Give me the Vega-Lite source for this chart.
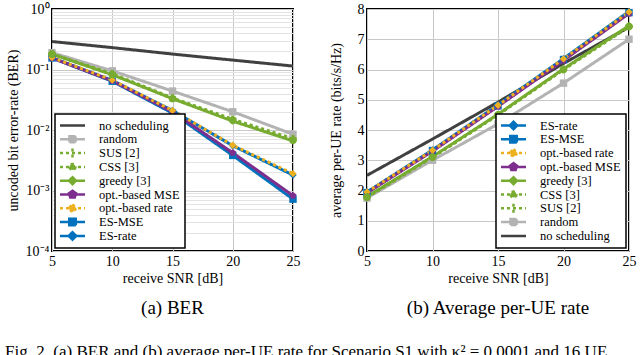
{
  "$schema": "https://vega.github.io/schema/vega-lite/v6.json",
  "padding": {"left": 5, "top": 1, "right": 3, "bottom": 0},
  "background": "white",
  "config": {
    "font": "Liberation Serif",
    "view": {"stroke": "black", "strokeWidth": 2},
    "axis": {"labelFont": "Liberation Serif", "labelFontSize": 14, "labelColor": "black", "titleFont": "Liberation Serif", "titleFontSize": 14, "titleFontWeight": "normal", "titleColor": "black", "labelPadding": 3, "grid": true, "gridColor": "#c8c8c8", "gridWidth": 1, "ticks": false, "domain": false, "labelOverlap": false},
    "legend": {"labelFont": "Liberation Serif", "labelFontSize": 12.5, "labelColor": "black", "symbolSize": 100, "symbolStrokeWidth": 2.5, "symbolOffset": 6, "labelOffset": 20, "rowPadding": 0.8, "padding": 5, "fillColor": "white", "strokeColor": "black", "cornerRadius": 0, "symbolOpacity": 1, "offset": 3, "clipHeight": 13},
    "title": {"font": "Liberation Serif", "fontWeight": "normal", "color": "black"}
  },
  "datasets": {
    "ber": [
      {"snr": 5, "v": 0.29, "method": "no scheduling"}, {"snr": 10, "v": 0.23, "method": "no scheduling"}, {"snr": 15, "v": 0.18, "method": "no scheduling"}, {"snr": 20, "v": 0.143, "method": "no scheduling"}, {"snr": 25, "v": 0.114, "method": "no scheduling"},
      {"snr": 5, "v": 0.19, "method": "random"}, {"snr": 10, "v": 0.095, "method": "random"}, {"snr": 15, "v": 0.044, "method": "random"}, {"snr": 20, "v": 0.02, "method": "random"}, {"snr": 25, "v": 0.0085, "method": "random"},
      {"snr": 5, "v": 0.157, "method": "ES-rate"}, {"snr": 10, "v": 0.066, "method": "ES-rate"}, {"snr": 15, "v": 0.021, "method": "ES-rate"}, {"snr": 20, "v": 0.0055, "method": "ES-rate"}, {"snr": 25, "v": 0.0018, "method": "ES-rate"},
      {"snr": 5, "v": 0.155, "method": "ES-MSE"}, {"snr": 10, "v": 0.064, "method": "ES-MSE"}, {"snr": 15, "v": 0.019, "method": "ES-MSE"}, {"snr": 20, "v": 0.0038, "method": "ES-MSE"}, {"snr": 25, "v": 0.00072, "method": "ES-MSE"},
      {"snr": 5, "v": 0.155, "method": "opt.-based MSE"}, {"snr": 10, "v": 0.065, "method": "opt.-based MSE"}, {"snr": 15, "v": 0.02, "method": "opt.-based MSE"}, {"snr": 20, "v": 0.0042, "method": "opt.-based MSE"}, {"snr": 25, "v": 0.00082, "method": "opt.-based MSE"},
      {"snr": 5, "v": 0.158, "method": "opt.-based rate"}, {"snr": 10, "v": 0.067, "method": "opt.-based rate"}, {"snr": 15, "v": 0.021, "method": "opt.-based rate"}, {"snr": 20, "v": 0.0056, "method": "opt.-based rate"}, {"snr": 25, "v": 0.0019, "method": "opt.-based rate"},
      {"snr": 5, "v": 0.18, "method": "greedy [3]"}, {"snr": 10, "v": 0.082, "method": "greedy [3]"}, {"snr": 15, "v": 0.033, "method": "greedy [3]"}, {"snr": 20, "v": 0.014, "method": "greedy [3]"}, {"snr": 25, "v": 0.0066, "method": "greedy [3]"},
      {"snr": 5, "v": 0.18, "method": "CSS [3]"}, {"snr": 10, "v": 0.083, "method": "CSS [3]"}, {"snr": 15, "v": 0.033, "method": "CSS [3]"}, {"snr": 20, "v": 0.0145, "method": "CSS [3]"}, {"snr": 25, "v": 0.0068, "method": "CSS [3]"},
      {"snr": 5, "v": 0.18, "method": "SUS [2]"}, {"snr": 10, "v": 0.085, "method": "SUS [2]"}, {"snr": 15, "v": 0.034, "method": "SUS [2]"}, {"snr": 20, "v": 0.015, "method": "SUS [2]"}, {"snr": 25, "v": 0.0072, "method": "SUS [2]"}
    ],
    "rate": [
      {"snr": 5, "v": 2.5, "method": "no scheduling"}, {"snr": 10, "v": 3.7, "method": "no scheduling"}, {"snr": 15, "v": 4.92, "method": "no scheduling"}, {"snr": 20, "v": 6.2, "method": "no scheduling"}, {"snr": 25, "v": 7.4, "method": "no scheduling"},
      {"snr": 5, "v": 1.75, "method": "random"}, {"snr": 10, "v": 3.0, "method": "random"}, {"snr": 15, "v": 4.2, "method": "random"}, {"snr": 20, "v": 5.55, "method": "random"}, {"snr": 25, "v": 7.0, "method": "random"},
      {"snr": 5, "v": 1.95, "method": "ES-rate"}, {"snr": 10, "v": 3.34, "method": "ES-rate"}, {"snr": 15, "v": 4.83, "method": "ES-rate"}, {"snr": 20, "v": 6.36, "method": "ES-rate"}, {"snr": 25, "v": 7.92, "method": "ES-rate"},
      {"snr": 5, "v": 1.93, "method": "ES-MSE"}, {"snr": 10, "v": 3.32, "method": "ES-MSE"}, {"snr": 15, "v": 4.8, "method": "ES-MSE"}, {"snr": 20, "v": 6.33, "method": "ES-MSE"}, {"snr": 25, "v": 7.88, "method": "ES-MSE"},
      {"snr": 5, "v": 1.92, "method": "opt.-based MSE"}, {"snr": 10, "v": 3.3, "method": "opt.-based MSE"}, {"snr": 15, "v": 4.78, "method": "opt.-based MSE"}, {"snr": 20, "v": 6.3, "method": "opt.-based MSE"}, {"snr": 25, "v": 7.85, "method": "opt.-based MSE"},
      {"snr": 5, "v": 1.95, "method": "opt.-based rate"}, {"snr": 10, "v": 3.33, "method": "opt.-based rate"}, {"snr": 15, "v": 4.82, "method": "opt.-based rate"}, {"snr": 20, "v": 6.35, "method": "opt.-based rate"}, {"snr": 25, "v": 7.9, "method": "opt.-based rate"},
      {"snr": 5, "v": 1.8, "method": "greedy [3]"}, {"snr": 10, "v": 3.12, "method": "greedy [3]"}, {"snr": 15, "v": 4.52, "method": "greedy [3]"}, {"snr": 20, "v": 6.02, "method": "greedy [3]"}, {"snr": 25, "v": 7.45, "method": "greedy [3]"},
      {"snr": 5, "v": 1.78, "method": "CSS [3]"}, {"snr": 10, "v": 3.1, "method": "CSS [3]"}, {"snr": 15, "v": 4.5, "method": "CSS [3]"}, {"snr": 20, "v": 6.0, "method": "CSS [3]"}, {"snr": 25, "v": 7.42, "method": "CSS [3]"},
      {"snr": 5, "v": 1.78, "method": "SUS [2]"}, {"snr": 10, "v": 3.1, "method": "SUS [2]"}, {"snr": 15, "v": 4.5, "method": "SUS [2]"}, {"snr": 20, "v": 6.0, "method": "SUS [2]"}, {"snr": 25, "v": 7.42, "method": "SUS [2]"}
    ]
  },
  "title": {"text": "Fig. 2.   (a) BER and (b) average per-UE rate for Scenario S1 with \u03ba\u00b2 = 0.0001 and 16 UEs, and the other settings of the simulation.", "orient": "bottom", "anchor": "start", "fontSize": 17, "offset": 25, "frame": "bounds", "limit": 632},
  "hconcat": [
    {
      "width": 241, "height": 242,
      "title": {"text": "(a)  BER", "orient": "bottom", "anchor": "middle", "fontSize": 19, "offset": 14},
      "data": {"name": "ber"},
      "resolve": {"scale": {"shape": "independent", "strokeDash": "independent", "fill": "independent", "stroke": "independent"}},
      "layer": [
        {
          "mark": {"type": "line", "strokeWidth": 3},
          "encoding": {
            "x": {"field": "snr", "type": "quantitative", "scale": {"domain": [5, 25], "nice": false}, "axis": {"values": [5, 10, 15, 20, 25], "tickCount": 10, "format": "d", "title": "receive SNR [dB]", "titlePadding": 3, "labelFlush": false, "labelOverlap": false}},
            "y": {"field": "v", "type": "quantitative", "scale": {"type": "log", "domain": [0.0001, 1], "nice": false}, "axis": {"title": "uncoded bit error-rate (BER)", "titlePadding": 5, "labelOverlap": false,
              "gridColor": {"condition": {"test": "abs(log(datum.value)/LN10 - round(log(datum.value)/LN10)) < 0.001", "value": "#c8c8c8"}, "value": "#e3e3e3"},
              "labelExpr": "abs(log(datum.value)/LN10 - round(log(datum.value)/LN10)) > 0.001 ? '' : datum.value > 0.5 ? '10\u2070' : datum.value > 0.05 ? '10\u207b\u00b9' : datum.value > 0.005 ? '10\u207b\u00b2' : datum.value > 0.0005 ? '10\u207b\u00b3' : '10\u207b\u2074'"}},
            "color": {"field": "method", "type": "nominal", "legend": null, "scale": {"domain": ["no scheduling", "random", "SUS [2]", "CSS [3]", "greedy [3]", "opt.-based MSE", "opt.-based rate", "ES-MSE", "ES-rate"], "range": ["#404040", "#b3b3b3", "#77ac30", "#77ac30", "#77ac30", "#7e2f8e", "#edb120", "#0072bd", "#0072bd"]}},
            "strokeDash": {"field": "method", "type": "nominal", "legend": null, "scale": {"domain": ["no scheduling", "random", "SUS [2]", "CSS [3]", "greedy [3]", "opt.-based MSE", "opt.-based rate", "ES-MSE", "ES-rate"], "range": [[1, 0], [1, 0], [3, 3], [3, 3], [1, 0], [1, 0], [3, 3], [1, 0], [1, 0]]}}
          }
        },
        {
          "transform": [{"filter": "datum.method != 'no scheduling'"}],
          "mark": {"type": "point", "filled": true, "size": 55, "opacity": 1},
          "encoding": {
            "x": {"field": "snr", "type": "quantitative", "axis": {"values": [5, 10, 15, 20, 25], "tickCount": 10, "format": "d", "title": "receive SNR [dB]", "titlePadding": 3, "labelFlush": false, "labelOverlap": false}},
            "y": {"field": "v", "type": "quantitative", "axis": {"title": "uncoded bit error-rate (BER)", "titlePadding": 5, "labelOverlap": false,
              "gridColor": {"condition": {"test": "abs(log(datum.value)/LN10 - round(log(datum.value)/LN10)) < 0.001", "value": "#c8c8c8"}, "value": "#e3e3e3"},
              "labelExpr": "abs(log(datum.value)/LN10 - round(log(datum.value)/LN10)) > 0.001 ? '' : datum.value > 0.5 ? '10\u2070' : datum.value > 0.05 ? '10\u207b\u00b9' : datum.value > 0.005 ? '10\u207b\u00b2' : datum.value > 0.0005 ? '10\u207b\u00b3' : '10\u207b\u2074'"}},
            "color": {"field": "method", "type": "nominal", "legend": null},
            "shape": {"field": "method", "type": "nominal", "legend": null, "scale": {"domain": ["no scheduling", "random", "SUS [2]", "CSS [3]", "greedy [3]", "opt.-based MSE", "opt.-based rate", "ES-MSE", "ES-rate"], "range": ["circle", "square", "cross", "circle", "diamond", "M0,-1L0.95,-0.31L0.59,0.81L-0.59,0.81L-0.95,-0.31Z", "diamond", "square", "diamond"]}}
          }
        },
        {
          "mark": {"type": "point", "opacity": 0, "filled": true},
          "encoding": {
            "x": {"field": "snr", "type": "quantitative", "axis": {"values": [5, 10, 15, 20, 25], "tickCount": 10, "format": "d", "title": "receive SNR [dB]", "titlePadding": 3, "labelFlush": false, "labelOverlap": false}},
            "y": {"field": "v", "type": "quantitative", "axis": {"title": "uncoded bit error-rate (BER)", "titlePadding": 5, "labelOverlap": false,
              "gridColor": {"condition": {"test": "abs(log(datum.value)/LN10 - round(log(datum.value)/LN10)) < 0.001", "value": "#c8c8c8"}, "value": "#e3e3e3"},
              "labelExpr": "abs(log(datum.value)/LN10 - round(log(datum.value)/LN10)) > 0.001 ? '' : datum.value > 0.5 ? '10\u2070' : datum.value > 0.05 ? '10\u207b\u00b9' : datum.value > 0.005 ? '10\u207b\u00b2' : datum.value > 0.0005 ? '10\u207b\u00b3' : '10\u207b\u2074'"}},
            "fill": {"field": "method", "type": "nominal", "legend": {"title": null, "orient": "bottom-left", "encode": {"legend": {"update": {"strokeWidth": {"value": 1.5}}}}}, "scale": {"domain": ["no scheduling", "random", "SUS [2]", "CSS [3]", "greedy [3]", "opt.-based MSE", "opt.-based rate", "ES-MSE", "ES-rate"], "range": ["#404040", "#b3b3b3", "#77ac30", "#77ac30", "#77ac30", "#7e2f8e", "#edb120", "#0072bd", "#0072bd"]}},
            "stroke": {"field": "method", "type": "nominal", "legend": {"title": null, "orient": "bottom-left"}, "scale": {"domain": ["no scheduling", "random", "SUS [2]", "CSS [3]", "greedy [3]", "opt.-based MSE", "opt.-based rate", "ES-MSE", "ES-rate"], "range": ["#404040", "#b3b3b3", "#77ac30", "#77ac30", "#77ac30", "#7e2f8e", "#edb120", "#0072bd", "#0072bd"]}},
            "strokeDash": {"field": "method", "type": "nominal", "legend": {"title": null, "orient": "bottom-left"}, "scale": {"domain": ["no scheduling", "random", "SUS [2]", "CSS [3]", "greedy [3]", "opt.-based MSE", "opt.-based rate", "ES-MSE", "ES-rate"], "range": [[1, 0], [1, 0], [3, 3], [3, 3], [1, 0], [1, 0], [3, 3], [1, 0], [1, 0]]}},
            "shape": {"field": "method", "type": "nominal", "legend": {"title": null, "orient": "bottom-left"}, "scale": {"domain": ["no scheduling", "random", "SUS [2]", "CSS [3]", "greedy [3]", "opt.-based MSE", "opt.-based rate", "ES-MSE", "ES-rate"], "range": [
              "M-2.5,0H2.5",
              "M-2.5,0H2.5M-0.6,-0.6H0.6V0.6H-0.6Z",
              "M-2.5,0H2.5M0,-0.9V0.9",
              "M-2.5,0H2.5M0.6,0A0.6,0.6,0,1,1,-0.6,0A0.6,0.6,0,1,1,0.6,0Z",
              "M-2.5,0H2.5M0,-0.7L0.7,0L0,0.7L-0.7,0Z",
              "M-2.5,0H2.5M0,-0.75L0.71,-0.23L0.44,0.61L-0.44,0.61L-0.71,-0.23Z",
              "M-2.5,0H2.5M0,-0.8L0.8,0L0,0.8L-0.8,0Z",
              "M-2.5,0H2.5M-0.65,-0.65H0.65V0.65H-0.65Z",
              "M-2.5,0H2.5M0,-0.75L0.75,0L0,0.75L-0.75,0Z"]}}
          }
        }
      ]
    },
    {
      "width": 262, "height": 242,
      "title": {"text": "(b)  Average per-UE rate", "orient": "bottom", "anchor": "middle", "fontSize": 19, "offset": 14},
      "data": {"name": "rate"},
      "resolve": {"scale": {"shape": "independent", "strokeDash": "independent", "fill": "independent", "stroke": "independent"}},
      "layer": [
        {
          "mark": {"type": "line", "strokeWidth": 3},
          "encoding": {
            "x": {"field": "snr", "type": "quantitative", "scale": {"domain": [5, 25], "nice": false}, "axis": {"values": [5, 10, 15, 20, 25], "tickCount": 10, "format": "d", "title": "receive SNR [dB]", "titlePadding": 3, "labelFlush": false, "labelOverlap": false}},
            "y": {"field": "v", "type": "quantitative", "scale": {"domain": [0, 8], "nice": false}, "axis": {"values": [0, 1, 2, 3, 4, 5, 6, 7, 8], "tickCount": 12, "format": "d", "title": "average per-UE rate (bits/s/Hz)", "titlePadding": 14, "labelOverlap": false}},
            "color": {"field": "method", "type": "nominal", "legend": null, "scale": {"domain": ["ES-rate", "ES-MSE", "opt.-based rate", "opt.-based MSE", "greedy [3]", "CSS [3]", "SUS [2]", "random", "no scheduling"], "range": ["#0072bd", "#0072bd", "#edb120", "#7e2f8e", "#77ac30", "#77ac30", "#77ac30", "#b3b3b3", "#404040"]}},
            "strokeDash": {"field": "method", "type": "nominal", "legend": null, "scale": {"domain": ["ES-rate", "ES-MSE", "opt.-based rate", "opt.-based MSE", "greedy [3]", "CSS [3]", "SUS [2]", "random", "no scheduling"], "range": [[1, 0], [1, 0], [3, 3], [1, 0], [1, 0], [3, 3], [3, 3], [1, 0], [1, 0]]}}
          }
        },
        {
          "transform": [{"filter": "datum.method != 'no scheduling'"}],
          "mark": {"type": "point", "filled": true, "size": 55, "opacity": 1},
          "encoding": {
            "x": {"field": "snr", "type": "quantitative", "axis": {"values": [5, 10, 15, 20, 25], "tickCount": 10, "format": "d", "title": "receive SNR [dB]", "titlePadding": 3, "labelFlush": false, "labelOverlap": false}},
            "y": {"field": "v", "type": "quantitative", "axis": {"values": [0, 1, 2, 3, 4, 5, 6, 7, 8], "tickCount": 12, "format": "d", "title": "average per-UE rate (bits/s/Hz)", "titlePadding": 14, "labelOverlap": false}},
            "color": {"field": "method", "type": "nominal", "legend": null},
            "shape": {"field": "method", "type": "nominal", "legend": null, "scale": {"domain": ["ES-rate", "ES-MSE", "opt.-based rate", "opt.-based MSE", "greedy [3]", "CSS [3]", "SUS [2]", "random", "no scheduling"], "range": ["diamond", "square", "diamond", "M0,-1L0.95,-0.31L0.59,0.81L-0.59,0.81L-0.95,-0.31Z", "diamond", "circle", "cross", "square", "circle"]}}
          }
        },
        {
          "mark": {"type": "point", "opacity": 0, "filled": true},
          "encoding": {
            "x": {"field": "snr", "type": "quantitative", "axis": {"values": [5, 10, 15, 20, 25], "tickCount": 10, "format": "d", "title": "receive SNR [dB]", "titlePadding": 3, "labelFlush": false, "labelOverlap": false}},
            "y": {"field": "v", "type": "quantitative", "axis": {"values": [0, 1, 2, 3, 4, 5, 6, 7, 8], "tickCount": 12, "format": "d", "title": "average per-UE rate (bits/s/Hz)", "titlePadding": 14, "labelOverlap": false}},
            "fill": {"field": "method", "type": "nominal", "legend": {"title": null, "orient": "bottom-right", "encode": {"legend": {"update": {"strokeWidth": {"value": 1.5}}}}}, "scale": {"domain": ["ES-rate", "ES-MSE", "opt.-based rate", "opt.-based MSE", "greedy [3]", "CSS [3]", "SUS [2]", "random", "no scheduling"], "range": ["#0072bd", "#0072bd", "#edb120", "#7e2f8e", "#77ac30", "#77ac30", "#77ac30", "#b3b3b3", "#404040"]}},
            "stroke": {"field": "method", "type": "nominal", "legend": {"title": null, "orient": "bottom-right"}, "scale": {"domain": ["ES-rate", "ES-MSE", "opt.-based rate", "opt.-based MSE", "greedy [3]", "CSS [3]", "SUS [2]", "random", "no scheduling"], "range": ["#0072bd", "#0072bd", "#edb120", "#7e2f8e", "#77ac30", "#77ac30", "#77ac30", "#b3b3b3", "#404040"]}},
            "strokeDash": {"field": "method", "type": "nominal", "legend": {"title": null, "orient": "bottom-right"}, "scale": {"domain": ["ES-rate", "ES-MSE", "opt.-based rate", "opt.-based MSE", "greedy [3]", "CSS [3]", "SUS [2]", "random", "no scheduling"], "range": [[1, 0], [1, 0], [3, 3], [1, 0], [1, 0], [3, 3], [3, 3], [1, 0], [1, 0]]}},
            "shape": {"field": "method", "type": "nominal", "legend": {"title": null, "orient": "bottom-right"}, "scale": {"domain": ["ES-rate", "ES-MSE", "opt.-based rate", "opt.-based MSE", "greedy [3]", "CSS [3]", "SUS [2]", "random", "no scheduling"], "range": [
              "M-2.5,0H2.5M0,-0.75L0.75,0L0,0.75L-0.75,0Z",
              "M-2.5,0H2.5M-0.65,-0.65H0.65V0.65H-0.65Z",
              "M-2.5,0H2.5M0,-0.8L0.8,0L0,0.8L-0.8,0Z",
              "M-2.5,0H2.5M0,-0.75L0.71,-0.23L0.44,0.61L-0.44,0.61L-0.71,-0.23Z",
              "M-2.5,0H2.5M0,-0.7L0.7,0L0,0.7L-0.7,0Z",
              "M-2.5,0H2.5M0.6,0A0.6,0.6,0,1,1,-0.6,0A0.6,0.6,0,1,1,0.6,0Z",
              "M-2.5,0H2.5M0,-0.9V0.9",
              "M-2.5,0H2.5M-0.6,-0.6H0.6V0.6H-0.6Z",
              "M-2.5,0H2.5"]}}
          }
        }
      ]
    }
  ],
  "spacing": 27
}
